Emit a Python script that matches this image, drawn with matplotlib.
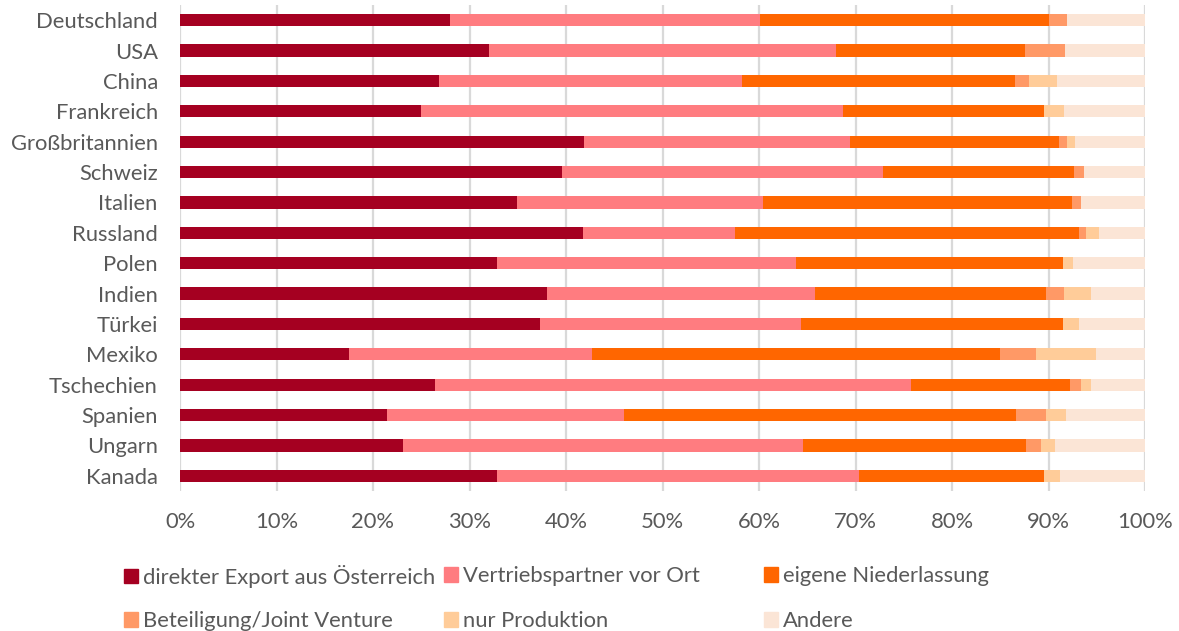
import matplotlib
matplotlib.use('Agg')
import matplotlib.pyplot as plt
import matplotlib.patches as mpatches
import numpy as np

# Länder (von oben nach unten)
laender = ['Deutschland', 'USA', 'China', 'Frankreich', 'Großbritannien', 'Schweiz',
           'Italien', 'Russland', 'Polen', 'Indien', 'Türkei', 'Mexiko',
           'Tschechien', 'Spanien', 'Ungarn', 'Kanada']

# Anteile in %
direkter_export = [28.0, 32.0, 26.8, 25.0, 41.9, 39.6, 34.9, 41.8, 32.9, 38.0, 37.3, 17.5, 26.4, 21.4, 23.1, 32.8]
vertriebspartner = [32.1, 36.0, 31.4, 43.7, 27.5, 33.3, 25.5, 15.7, 30.9, 27.8, 27.1, 25.2, 49.4, 24.6, 41.5, 37.6]
niederlassung = [29.9, 19.6, 28.3, 20.8, 21.7, 19.7, 32.0, 35.7, 27.7, 23.9, 27.1, 42.3, 16.4, 40.6, 23.1, 19.1]
beteiligung = [1.9, 4.1, 1.5, 0.0, 0.8, 1.1, 1.0, 0.7, 0.0, 1.9, 0.0, 3.7, 1.2, 3.1, 1.5, 0.0]
produktion = [0.0, 0.0, 2.9, 2.1, 0.8, 0.0, 0.0, 1.3, 1.0, 2.8, 1.7, 6.2, 1.0, 2.1, 1.5, 1.7]
andere = [8.1, 8.3, 9.1, 8.4, 7.3, 6.3, 6.6, 4.8, 7.5, 5.6, 6.8, 5.1, 5.6, 8.2, 9.3, 8.8]

serien = ['direkter Export aus Österreich', 'Vertriebspartner vor Ort', 'eigene Niederlassung',
          'Beteiligung/Joint Venture', 'nur Produktion', 'Andere']
farben = ['#A50021', '#FF7C80', '#FF6600', '#FF9966', '#FFCC99', '#FBE5D6']
werte = [direkter_export, vertriebspartner, niederlassung, beteiligung, produktion, andere]

plt.rcParams['font.family'] = ['Lato', 'DejaVu Sans']
textfarbe = '#595959'
schrift = 15.8

fig = plt.figure(figsize=(11.79, 6.31), dpi=100)
ax = fig.add_axes([180 / 1179, 1 - 491 / 631, 965 / 1179, 486 / 631])

y = np.arange(len(laender))
links = np.zeros(len(laender))
for name, farbe, w in zip(serien, farben, werte):
    w = np.array(w)
    ax.barh(y, w, left=links, height=0.4, color=farbe, label=name, zorder=3)
    links += w

ax.set_xlim(0, 100)
ax.set_ylim(len(laender) - 0.5, -0.5)
ax.set_yticks(y)
ax.set_yticklabels(laender)
ax.set_xticks(np.arange(0, 101, 10))
ax.set_xticklabels([f'{v}%' for v in range(0, 101, 10)])
ax.tick_params(axis='both', length=0, labelsize=schrift, colors=textfarbe)
ax.tick_params(axis='y', pad=16)
ax.tick_params(axis='x', pad=15)
ax.grid(axis='x', color='#D9D9D9', linewidth=1.6, zorder=0)
for s in ax.spines.values():
    s.set_visible(False)

# Legende: jede Position einzeln wie im Original
leg_pos = [(124, 576), (444, 576), (764, 576), (124, 621), (444, 621), (764, 621)]
for name, farbe, (px, py) in zip(serien, farben, leg_pos):
    h = mpatches.Patch(color=farbe, label=name)
    fig.legend(handles=[h], loc='center left', bbox_to_anchor=(px / 1179, 1 - py / 631),
               frameon=False, fontsize=schrift, handlelength=0.64, handleheight=0.64,
               handletextpad=0.23, borderpad=0, borderaxespad=0, labelcolor=textfarbe)

fig.savefig('out.png', dpi=100)
